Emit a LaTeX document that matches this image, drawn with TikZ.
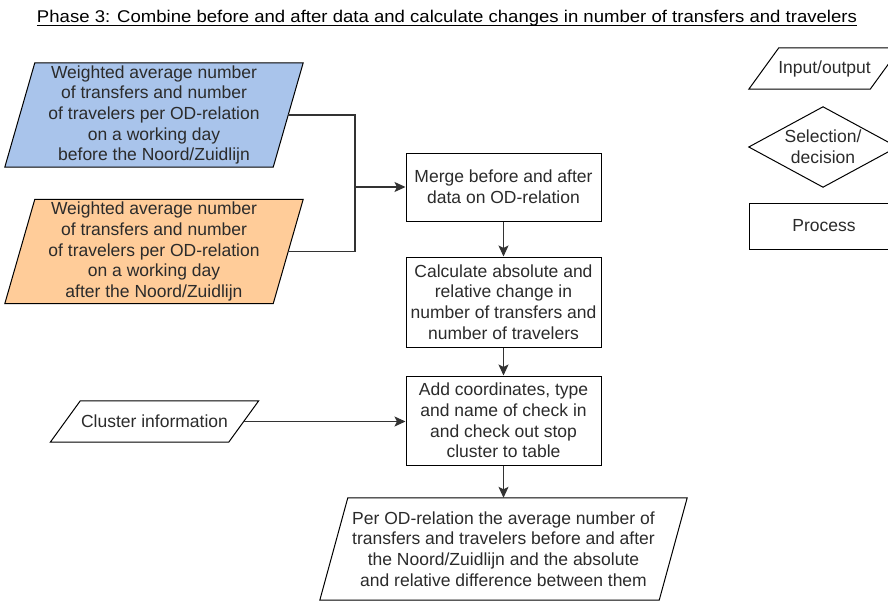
\documentclass[tikz,border=0pt]{standalone}
\usepackage{fontspec}
\setmainfont{Liberation Sans}
\usetikzlibrary{arrows.meta,backgrounds}
\definecolor{txt}{HTML}{2B2B2B}
\definecolor{wire}{HTML}{333333}
\definecolor{inblue}{HTML}{A9C4EB}
\definecolor{inorange}{HTML}{FFCC99}

% parallelogram drawn around a named node: #1 node, #2 half skew, #3 fill
\newcommand\ioshape[3]{%
  \draw[line width=1pt, fill=#3]
    ([xshift=#2]#1.north west) -- ([xshift=#2]#1.north east) --
    ([xshift=-#2]#1.south east) -- ([xshift=-#2]#1.south west) -- cycle;}

\tikzset{
  lbl/.style={font=\fontsize{17.5}{20.6}\selectfont, text=txt, align=center, inner sep=0pt},
  procbox/.style={lbl, draw=black, line width=1pt, fill=white},
  conn/.style={draw=wire, line width=1.1pt},
  arr/.style={conn, -{Stealth[length=11pt,width=10pt,inset=2.5pt]}},
}

\begin{document}
\begin{tikzpicture}[x=1pt,y=-1pt]
\useasboundingbox (0,0) rectangle (888,602);

% heading
\node[font=\fontsize{17}{19}\selectfont, text=black, inner sep=0pt, anchor=base] (title) at (447,23)
  {\resizebox{820pt}{\height}{Phase 3: Combine before and after data and calculate changes in number of transfers and travelers}};
\draw[line width=1pt] ([yshift=-3pt]title.base west) -- ([yshift=-3pt]title.base east);

% input data
\node[lbl, minimum width=268pt, minimum height=104pt] (inbefore) at (154,115)
  {Weighted average number\\of transfers and number\\of travelers per OD-relation\\on a working day\\before the Noord/Zuidlijn};
\node[lbl, minimum width=268pt, minimum height=104pt] (inafter) at (154,251.5)
  {Weighted average number\\of transfers and number\\of travelers per OD-relation\\on a working day\\after the Noord/Zuidlijn};
\node[lbl, minimum width=178pt, minimum height=41pt] (cluster) at (154.5,421.5) {Cluster information};

% processing steps
\node[procbox, minimum width=195pt, minimum height=68pt] (merge) at (503.5,187)
  {Merge before and after\\data on OD-relation};
\node[procbox, minimum width=195pt, minimum height=90pt] (calc) at (503.5,302)
  {Calculate absolute and\\relative change in\\number of transfers and\\number of travelers};
\node[procbox, minimum width=195pt, minimum height=89pt] (addinfo) at (503.5,420.5)
  {Add coordinates, type\\and name of check in\\and check out stop\\cluster to table};

% result
\node[lbl, minimum width=339pt, minimum height=102pt] (result) at (503.5,549)
  {Per OD-relation the average number of\\transfers and travelers before and after\\the Noord/Zuidlijn and the absolute\\and relative difference between them};

% legend
\node[lbl, minimum width=121pt, minimum height=41pt] (legio) at (824.5,68.5) {Input/output};
\node[lbl, minimum width=148pt, minimum height=80pt] (legdec) at (823,147) {Selection/\\decision};
\node[procbox, minimum width=150pt, minimum height=46pt] (legproc) at (824,226) {Process};

\begin{scope}[on background layer]
  \fill[white] (0,0) rectangle (888,602);
  \ioshape{inbefore}{15pt}{inblue}
  \ioshape{inafter}{15pt}{inorange}
  \ioshape{cluster}{15pt}{white}
  \ioshape{result}{14pt}{white}
  \ioshape{legio}{15pt}{white}
  \draw[line width=1pt, fill=white] (legdec.north) -- (legdec.east) -- (legdec.south) -- (legdec.west) -- cycle;
\end{scope}

% connectors
\coordinate (join) at (355,187);
\draw[conn] (inbefore.east) -| (join);
\draw[conn] (inafter.east) -| (join);
\draw[arr] (join) -- (merge.west);
\draw[arr] (merge.south) -- (calc.north);
\draw[arr] (calc.south) -- (addinfo.north);
\draw[arr] (cluster.east) -- (cluster.east -| addinfo.west);
\draw[arr] (addinfo.south) -- (result.north);
\end{tikzpicture}
\end{document}
